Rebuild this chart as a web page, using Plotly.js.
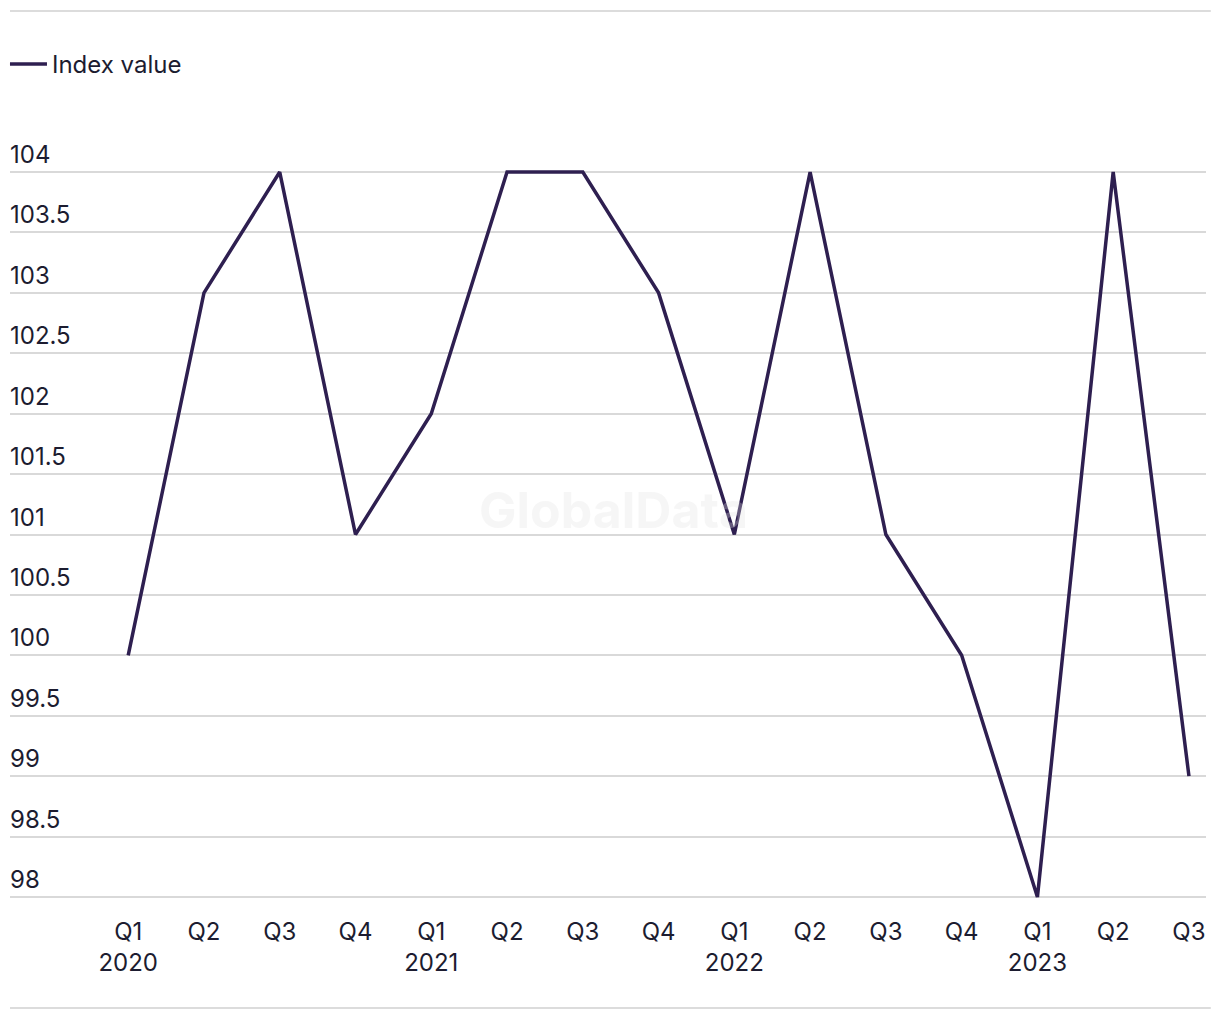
<!DOCTYPE html>
<html>
<head>
<meta charset="utf-8">
<script src="https://cdn.plot.ly/plotly-3.0.1.min.js"></script>
<style>html,body{margin:0;padding:0;background:#fff;}#chart{width:1220px;height:1020px;}</style>
</head>
<body>
<div id="chart"></div>
<script>
const quarters = ["Q1","Q2","Q3","Q4","Q1","Q2","Q3","Q4","Q1","Q2","Q3","Q4","Q1","Q2","Q3"];
const years = ["2020","","","","2021","","","","2022","","","","2023","",""];
const indexValues = [100,103,104,101,102,104,104,103,101,104,101,100,98,104,99];
const yTicks = [98,98.5,99,99.5,100,100.5,101,101.5,102,102.5,103,103.5,104];
const seriesName = "Index value";

const xIdx = quarters.map((q,i)=>i);
const tickText = quarters.map((q,i)=> years[i] ? q + "<br>" + years[i] : q);
const textColor = "#1c1c30";
const font = "Inter, 'Liberation Sans', Arial, sans-serif";

const annotations = yTicks.map(v => ({
  xref: "paper", yref: "y", x: 0, y: v, xanchor: "left", yanchor: "bottom",
  text: String(v), showarrow: false, yshift: 1, xshift: -2,
  font: {family: font, size: 24, color: textColor}
}));
annotations.push({
  xref: "paper", yref: "paper", x: 0.505, y: 0.533, xanchor: "center", yanchor: "middle",
  text: "<b>GlobalData</b>", showarrow: false,
  font: {family: font, size: 50, color: "rgba(225,225,225,0.3)"}
});

const layout = {
  width: 1220, height: 1020,
  margin: {l: 10, r: 14, t: 166, b: 117, autoexpand: false},
  paper_bgcolor: "#fff", plot_bgcolor: "#fff",
  showlegend: true,
  legend: {x: -0.0042, xanchor: "left", y: 1.138, yanchor: "middle", orientation: "h",
    font: {family: font, size: 24, color: textColor}, itemwidth: 37, bgcolor: "rgba(0,0,0,0)"},
  xaxis: {
    range: [-1.56, 14.225], tickvals: xIdx, ticktext: tickText,
    showgrid: false, zeroline: false, showline: false, ticks: "", ticklabelstandoff: 12,
    tickfont: {family: font, size: 24, color: textColor}, fixedrange: true
  },
  yaxis: {
    range: [97.95, 104.05], tickvals: yTicks, showticklabels: false,
    showgrid: true, gridcolor: "#d9d9d9", gridwidth: 2, zeroline: false, showline: false, ticks: "",
    fixedrange: true
  },
  annotations: annotations,
  shapes: [
    {type: "line", xref: "paper", yref: "paper", x0: 0, x1: 1.004, y0: 1.2103, y1: 1.2103, line: {color: "#dcdcdc", width: 2}},
    {type: "line", xref: "paper", yref: "paper", x0: 0, x1: 1.004, y0: -0.1425, y1: -0.1425, line: {color: "#dcdcdc", width: 2}}
  ]
};

Plotly.newPlot("chart", [{
  type: "scatter", mode: "lines", name: seriesName,
  x: xIdx, y: indexValues,
  line: {color: "#2e1f50", width: 3.5}
}], layout, {displayModeBar: false, staticPlot: true});
</script>
</body>
</html>
